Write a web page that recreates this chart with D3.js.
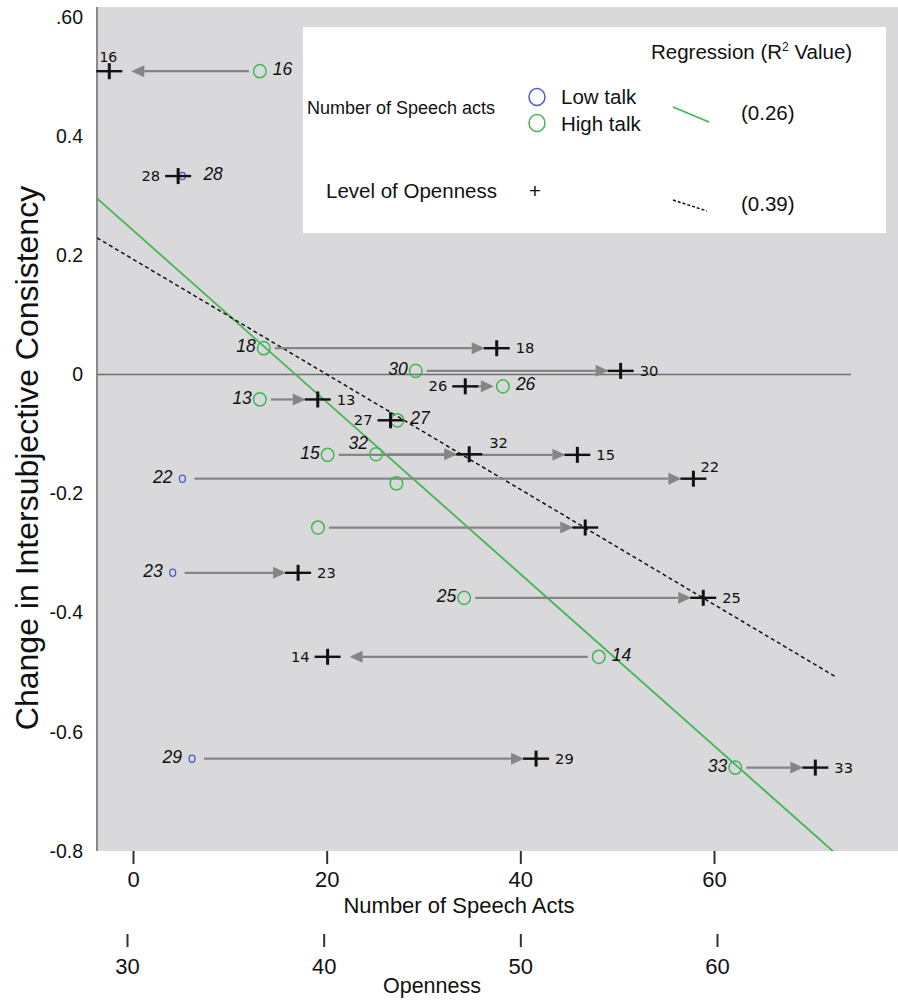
<!DOCTYPE html>
<html>
<head>
<meta charset="utf-8">
<script src="https://cdn.jsdelivr.net/npm/d3@7"></script>
<style>
  html, body { margin: 0; padding: 0; background: #ffffff; }
  svg { display: block; font-family: "Liberation Sans", Arial, sans-serif; }
</style>
</head>
<body>
<svg id="chart" width="898" height="1001"></svg>
<script>
// ---- data -------------------------------------------------------------
// group id (null = unlabelled group)
const groupIds = [16, 28, 18, 30, 26, 13, 27, 15, 32, 22, null, null, 23, 25, 14, 29, 33];
// change in intersubjective consistency
const changeConsistency = [0.509, 0.333, 0.044, 0.006, -0.020, -0.042, -0.077, -0.135, -0.134,
  -0.175, -0.183, -0.257, -0.333, -0.375, -0.474, -0.645, -0.660];
// number of speech acts (circles)
const speechActs = [13.1, 5.1, 13.5, 29.2, 38.2, 13.1, 27.3, 20.1, 25.1, 5.1, 27.2, 19.1, 4.1,
  34.2, 48.1, 6.1, 62.2];
// level of openness (crosses); null = no openness score
const openness = [29.1, 32.6, 48.8, 55.1, 47.2, 39.7, 43.4, 52.9, 47.4, 58.8, null, 53.3, 38.7,
  59.3, 40.2, 50.8, 65.0];
// talk level of each group
const talkLevel = ["High", "Low", "High", "High", "High", "High", "High", "High", "High", "Low",
  "High", "High", "Low", "High", "High", "Low", "High"];

// regression fits: [speech acts, openness]
const regIntercept = [0.242, 0.788];
const regSlope = [-0.01442, -0.01962];
const regR2Labels = ["(0.26)", "(0.39)"];

// axis ticks
const yTicks = [0.6, 0.4, 0.2, 0, -0.2, -0.4, -0.6, -0.8];
const yTickLabels = [".60", "0.4", "0.2", "0", "-0.2", "-0.4", "-0.6", "-0.8"];
const speechTicks = [0, 20, 40, 60];
const opennessTicks = [30, 40, 50, 60];

// ---- layout -----------------------------------------------------------
const svg = d3.select("#chart");
const plotLeft = 97, plotRight = 898, plotTop = 7, plotBottom = 851;

const y = d3.scaleLinear().domain([-0.8, 0.6]).range([plotBottom, 17]);
const xs = d3.scaleLinear().domain([0, 60]).range([133, 714]);   // speech acts
const xo = d3.scaleLinear().domain([30, 60]).range([127, 717]);  // openness

const GREEN = "#43b654", BLUE = "#4a5cc4", ARROW = "#858585";

// plot background
svg.append("rect").attr("x", plotLeft).attr("y", plotTop)
  .attr("width", plotRight - plotLeft).attr("height", plotBottom - plotTop)
  .attr("fill", "#d9d9db");

// left axis line
svg.append("line").attr("x1", plotLeft).attr("x2", plotLeft)
  .attr("y1", plotTop).attr("y2", plotBottom)
  .attr("stroke", "#8a8a8a").attr("stroke-width", 2);

// y axis labels
const yAxis = svg.append("g").attr("transform", `translate(${plotLeft},0)`)
  .call(d3.axisLeft(y).tickValues(yTicks).tickFormat((d, i) => yTickLabels[i])
    .tickSize(0).tickPadding(14));
yAxis.select(".domain").remove();
yAxis.selectAll("text").attr("font-size", 19.5).attr("fill", "#111")
  .attr("font-family", "Liberation Sans, Arial, sans-serif");

// y title
svg.append("text").attr("transform", "translate(38,458) rotate(-90)")
  .attr("text-anchor", "middle").attr("font-size", 32).attr("fill", "#111")
  .text("Change in Intersubjective Consistency");

// speech acts axis
const xsAxis = svg.append("g").attr("transform", `translate(0,${plotBottom})`)
  .call(d3.axisBottom(xs).tickValues(speechTicks).tickFormat(d3.format("d"))
    .tickSize(13).tickPadding(7));
xsAxis.select(".domain").remove();
xsAxis.selectAll("line").attr("stroke", "#333").attr("stroke-width", 2);
xsAxis.selectAll("text").attr("font-size", 22).attr("fill", "#111")
  .attr("font-family", "Liberation Sans, Arial, sans-serif");
svg.append("text").attr("x", 459).attr("y", 913).attr("text-anchor", "middle")
  .attr("font-size", 22).attr("fill", "#111").text("Number of Speech Acts");

// openness axis
const xoAxis = svg.append("g").attr("transform", "translate(0,934)")
  .call(d3.axisBottom(xo).tickValues(opennessTicks).tickFormat(d3.format("d"))
    .tickSize(13).tickPadding(11));
xoAxis.select(".domain").remove();
xoAxis.selectAll("line").attr("stroke", "#333").attr("stroke-width", 2);
xoAxis.selectAll("text").attr("font-size", 22).attr("fill", "#111")
  .attr("font-family", "Liberation Sans, Arial, sans-serif");
svg.append("text").attr("x", 432).attr("y", 993).attr("text-anchor", "middle")
  .attr("font-size", 21.5).attr("fill", "#111").text("Openness");

// zero reference line
svg.append("line").attr("x1", plotLeft).attr("x2", 851)
  .attr("y1", y(0)).attr("y2", y(0))
  .attr("stroke", "#707070").attr("stroke-width", 1.6);

// regression lines, clipped to the plot area
svg.append("clipPath").attr("id", "plotClip").append("rect")
  .attr("x", plotLeft).attr("y", plotTop)
  .attr("width", plotRight - plotLeft).attr("height", plotBottom - plotTop);
const fits = svg.append("g").attr("clip-path", "url(#plotClip)");
const sLo = xs.invert(plotLeft), sHi = xs.invert(840);
fits.append("line")
  .attr("x1", xs(sLo)).attr("y1", y(regIntercept[0] + regSlope[0] * sLo))
  .attr("x2", xs(sHi)).attr("y2", y(regIntercept[0] + regSlope[0] * sHi))
  .attr("stroke", GREEN).attr("stroke-width", 1.8);
const oLo = xo.invert(plotLeft), oHi = 66.0;
fits.append("line")
  .attr("x1", xo(oLo)).attr("y1", y(regIntercept[1] + regSlope[1] * oLo))
  .attr("x2", xo(oHi)).attr("y2", y(regIntercept[1] + regSlope[1] * oHi))
  .attr("stroke", "#111").attr("stroke-width", 1.5).attr("stroke-dasharray", "4,3");

// ---- legend -------------------------------------------------------------
const leg = svg.append("g");
leg.append("rect").attr("x", 303).attr("y", 27).attr("width", 583).attr("height", 206)
  .attr("fill", "#ffffff");
const regTitle = leg.append("text").attr("x", 651).attr("y", 59).attr("font-size", 20.5)
  .attr("fill", "#111");
regTitle.append("tspan").text("Regression (R");
regTitle.append("tspan").attr("font-size", 12).attr("dy", -8).text("2");
regTitle.append("tspan").attr("dy", 8).text(" Value)");
leg.append("text").attr("x", 307).attr("y", 114).attr("font-size", 18).attr("fill", "#111")
  .text("Number of Speech acts");
leg.append("ellipse").attr("cx", 537).attr("cy", 97).attr("rx", 8).attr("ry", 8.5)
  .attr("fill", "none").attr("stroke", BLUE).attr("stroke-width", 1.5);
leg.append("ellipse").attr("cx", 537).attr("cy", 123).attr("rx", 8).attr("ry", 8.5)
  .attr("fill", "none").attr("stroke", GREEN).attr("stroke-width", 1.5);
leg.append("text").attr("x", 561).attr("y", 104).attr("font-size", 20.5).attr("fill", "#111")
  .text("Low talk");
leg.append("text").attr("x", 561).attr("y", 131).attr("font-size", 20.5).attr("fill", "#111")
  .text("High talk");
leg.append("line").attr("x1", 673).attr("y1", 107).attr("x2", 709).attr("y2", 122)
  .attr("stroke", GREEN).attr("stroke-width", 1.8);
leg.append("text").attr("x", 741).attr("y", 120).attr("font-size", 20.5).attr("fill", "#111")
  .text(regR2Labels[0]);
leg.append("text").attr("x", 326).attr("y", 198).attr("font-size", 20.5).attr("fill", "#111")
  .text("Level of Openness");
leg.append("text").attr("x", 535).attr("y", 198).attr("text-anchor", "middle")
  .attr("font-size", 21).attr("fill", "#111").text("+");
leg.append("line").attr("x1", 673).attr("y1", 200).attr("x2", 707).attr("y2", 211)
  .attr("stroke", "#111").attr("stroke-width", 1.5).attr("stroke-dasharray", "3,2");
leg.append("text").attr("x", 741).attr("y", 211).attr("font-size", 20.5).attr("fill", "#111")
  .text(regR2Labels[1]);

// ---- groups ----------------------------------------------------------------
const groups = groupIds.map((id, i) => ({
  id, v: changeConsistency[i], s: speechActs[i], o: openness[i], talk: talkLevel[i]
}));

// arrows point from the speech-act circle to the openness cross,
// except where the arrow was drawn from the cross to the circle;
// no arrow when circle and cross nearly coincide
const reversedArrow = new Set([26]);
const arrows = svg.append("g");
groups.filter(g => g.o !== null && Math.abs(xo(g.o) - xs(g.s)) > 20).forEach(g => {
  const cx = xs(g.s), px = xo(g.o), yy = y(g.v);
  let from, to;
  if (reversedArrow.has(g.id)) {
    const dir = Math.sign(cx - px);
    from = px + dir * 8; to = cx - dir * 9;
  } else {
    const dir = Math.sign(px - cx);
    from = cx + dir * (g.talk === "Low" ? 12 : 11);
    to = px - dir * (dir > 0 ? 12 : 22);
  }
  const dir = Math.sign(to - from);
  const headLen = 13, headHalf = 6;
  arrows.append("line").attr("x1", from).attr("y1", yy)
    .attr("x2", to - dir * headLen).attr("y2", yy)
    .attr("stroke", ARROW).attr("stroke-width", 2.2);
  arrows.append("path")
    .attr("d", `M${to},${yy} L${to - dir * headLen},${yy - headHalf} L${to - dir * headLen},${yy + headHalf} Z`)
    .attr("fill", ARROW);
});

// circles: speech acts
svg.append("g").selectAll("ellipse").data(groups).join("ellipse")
  .attr("cx", d => xs(d.s)).attr("cy", d => y(d.v))
  .attr("rx", d => d.talk === "Low" ? 3 : 6.3)
  .attr("ry", d => d.talk === "Low" ? 3.6 : 6.6)
  .attr("fill", "none")
  .attr("stroke", d => d.talk === "Low" ? BLUE : GREEN)
  .attr("stroke-width", d => d.talk === "Low" ? 1.3 : 1.5);

// crosses: openness
const crosses = svg.append("g");
groups.filter(g => g.o !== null).forEach(g => {
  const px = xo(g.o), yy = y(g.v);
  crosses.append("line").attr("x1", px - 13).attr("x2", px + 13)
    .attr("y1", yy).attr("y2", yy).attr("stroke", "#111").attr("stroke-width", 2.4);
  crosses.append("line").attr("x1", px).attr("x2", px)
    .attr("y1", yy - 8).attr("y2", yy + 8).attr("stroke", "#111").attr("stroke-width", 3);
});

// labels: italic next to circles, upright next to crosses, on the side away from the arrow
const raisedLabel = new Set([32]);
const labels = svg.append("g");
groups.filter(g => g.id !== null).forEach(g => {
  const cx = xs(g.s), px = xo(g.o), yy = y(g.v);
  const toRight = px > cx;
  const lift = raisedLabel.has(g.id) ? -11 : -2;
  const circleGap = g.talk === "Low" ? 10 : 8;
  labels.append("text")
    .attr("x", toRight ? cx - circleGap : cx + (g.talk === "Low" ? 21 : 13))
    .attr("y", yy + lift).attr("dy", "0.35em")
    .attr("text-anchor", toRight ? "end" : "start")
    .attr("font-size", 17.5).attr("font-style", "italic").attr("fill", "#111")
    .text(g.id);
  let lx = toRight ? px + 19 : px - 18, ly = yy + (raisedLabel.has(g.id) ? -11 : 0);
  let anchor = toRight ? "start" : "end";
  if (g.id === 16) { lx = px - 1; ly = yy - 14; anchor = "middle"; }
  if (g.id === 22) { lx = px + 7; ly = yy - 12; anchor = "start"; }
  if (g.id === 32) { lx = px + 20; }
  labels.append("text")
    .attr("x", lx).attr("y", ly).attr("dy", "0.35em")
    .attr("text-anchor", anchor)
    .attr("font-family", "DejaVu Sans, Verdana, sans-serif")
    .attr("font-size", g.id === 16 ? 14 : 14.7).attr("fill", "#111")
    .text(g.id);
});
</script>
</body>
</html>
